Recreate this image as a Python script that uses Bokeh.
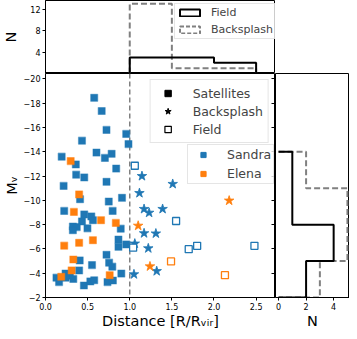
from bokeh.plotting import figure
from bokeh.models import (Range1d, FixedTicker, Span, Legend, LegendItem, LinearAxis)
from bokeh.layouts import column, row
from bokeh.embed import file_html
from bokeh.resources import INLINE

BLUE = "#1f77b4"
ORANGE = "#ff7f0e"
GRAY = "#808080"
FONT = "DejaVu Sans"
NAN = float("nan")

# ---------------- data ----------------
sandra_sat_x = [0.578, 0.667, 0.724, 0.958, 0.433, 0.985, 0.605, 0.785, 0.705, 0.192, 0.360, 0.839,
                0.364, 0.460, 0.724, 0.215, 0.410, 0.908, 0.751, 0.222, 0.797, 0.460, 0.544, 0.563,
                0.433, 0.325, 0.371, 0.498, 0.893, 0.325, 0.866, 0.866, 0.958, 0.724, 0.406, 0.755,
                0.793, 0.552, 0.399, 0.238, 0.130, 0.161, 0.238, 0.290, 0.330, 0.456, 0.532, 0.578,
                0.736, 0.800, 0.900]
sandra_sat_y = [-18.45, -17.36, -15.80, -15.47, -14.92, -14.64, -13.94, -13.83, -13.50, -13.60, -12.96, -12.62,
                -12.12, -11.89, -11.53, -11.19, -10.10, -10.21, -9.90, -9.13, -9.13, -8.84, -8.68, -8.37,
                -8.27, -7.85, -7.80, -7.70, -7.67, -7.54, -6.77, -6.17, -6.37, -5.52, -5.05, -4.87,
                -4.54, -4.67, -4.23, -3.97, -3.63, -3.27, -3.63, -3.79, -3.53, -2.99, -3.32, -3.42,
                -3.27, -3.40, -3.97]
elena_sat_x = [0.299, 0.399, 0.337, 0.659, 0.835, 0.222, 0.399, 0.563, 0.330, 0.310, 0.187, 0.762]
elena_sat_y = [-13.24, -10.49, -9.05, -8.37, -8.14, -6.27, -6.50, -6.72, -5.13, -4.23, -3.71, -3.84]

sandra_bs_x = [1.145, 1.115, 1.51, 1.17, 1.23, 1.39, 1.17, 1.31, 1.06, 1.22, 1.32, 1.05]
sandra_bs_y = [-12.0, -10.6, -11.35, -9.29, -8.98, -9.29, -7.29, -7.27, -6.44, -6.05, -4.17, -3.91]
elena_bs_x = [1.10, 1.24, 2.18]
elena_bs_y = [-7.91, -4.56, -9.98]

sandra_field_x = [1.06, 1.55, 1.04, 1.70, 1.80, 2.48]
sandra_field_y = [-12.85, -8.30, -6.10, -5.98, -6.26, -6.26]
elena_field_x = [1.49, 2.13]
elena_field_y = [-4.97, -3.84]

# histograms (bin edges and counts)
dist_edges = [1.0, 1.5, 2.0, 2.5]
dist_field_counts = [3, 3, 2]
dist_back_counts = [13, 1, 1]
mv_edges = [-14, -11, -8, -5, -2]
mv_field_counts = [1, 1, 4, 2]
mv_back_counts = [2, 5, 5, 3]

# ticks
x_ticks = [0.0, 0.5, 1.0, 1.5, 2.0, 2.5]
x_tick_labels = ["0.0", "0.5", "1.0", "1.5", "2.0", "2.5"]
y_ticks = [-20, -18, -16, -14, -12, -10, -8, -6, -4, -2]
y_tick_labels = ["\u221220", "\u221218", "\u221216", "\u221214", "\u221212", "\u221210",
                 "\u22128", "\u22126", "\u22124", "\u22122"]
ntop_ticks = [4, 8, 12]
ntop_labels = ["4", "8", "12"]
nright_ticks = [0, 2, 4]
nright_labels = ["0", "2", "4"]

X_END = 2.73
Y_TOP = -20.45
N_TOP_END = 13.6
N_RIGHT_START = -0.22
N_RIGHT_END = 5.15

LEFT = 41
MAIN_W = 234
TOP_H = 73
LOW_H = 258
TOTAL_W = 349


def key(t):
    return int(t) if float(t).is_integer() else t


def step_xy(edges, counts):
    xs, ys = [edges[0]], [0]
    for i, c in enumerate(counts):
        xs += [edges[i], edges[i + 1]]
        ys += [c, c]
    xs.append(edges[-1])
    ys.append(0)
    return xs, ys


def style_axis(ax, ticks, labels, label=None, label_standoff=1):
    ax.ticker = FixedTicker(ticks=ticks)
    ax.major_label_overrides = {key(t): l for t, l in zip(ticks, labels)}
    ax.minor_tick_line_color = None
    ax.major_tick_in = 0
    ax.major_tick_out = 3
    ax.major_label_standoff = 2
    ax.major_label_text_font = FONT
    ax.major_label_text_font_size = "8px"
    ax.major_label_text_color = "black"
    ax.axis_line_color = "black"
    ax.major_tick_line_color = "black"
    if label is not None:
        ax.axis_label = label
        ax.axis_label_text_font = FONT
        ax.axis_label_text_font_size = "14.5px"
        ax.axis_label_text_font_style = "normal"
        ax.axis_label_text_color = "black"
        ax.axis_label_standoff = label_standoff


def base_fig(**kw):
    p = figure(output_backend="svg", toolbar_location=None, min_border=0, **kw)
    p.xgrid.visible = False
    p.ygrid.visible = False
    p.outline_line_color = "black"
    p.outline_line_width = 1
    p.background_fill_color = "white"
    p.border_fill_color = "white"
    return p


XR = Range1d(0, X_END)
YR = Range1d(-2, Y_TOP)

# ---------------- top histogram ----------------
top = base_fig(width=LEFT + MAIN_W, height=TOP_H, x_range=XR, y_range=Range1d(0, N_TOP_END),
               x_axis_location=None, min_border_left=LEFT)
style_axis(top.yaxis[0], ntop_ticks, ntop_labels, label="N", label_standoff=8)
bx, by = step_xy(dist_edges, dist_back_counts)
fx, fy = step_xy(dist_edges, dist_field_counts)
top.line(bx, by, line_color=GRAY, line_width=2, line_dash="6 3")
top.line(fx, fy, line_color="black", line_width=2)
q_field = top.quad(left=[NAN], right=[NAN], top=[NAN], bottom=[NAN], fill_alpha=0,
                   line_color="black", line_width=2)
q_back = top.quad(left=[NAN], right=[NAN], top=[NAN], bottom=[NAN], fill_alpha=0,
                  line_color=GRAY, line_width=2, line_dash="4 2")
leg_top = Legend(items=[LegendItem(label="Field", renderers=[q_field]),
                        LegendItem(label="Backsplash", renderers=[q_back])],
                 location=(129, 34), label_text_font=FONT, label_text_font_size="11px",
                 glyph_width=25, glyph_height=9, label_height=12, label_standoff=9,
                 padding=2, spacing=4, border_line_color="#cccccc", background_fill_alpha=0.8)
top.add_layout(leg_top)

# ---------------- main scatter ----------------
main = base_fig(width=LEFT + MAIN_W, height=LOW_H, x_range=XR, y_range=YR,
                min_border_left=LEFT)
style_axis(main.xaxis[0], x_ticks, x_tick_labels, label="Distance [R/R\u1d65\u1d62\u1d63]", label_standoff=0)
style_axis(main.yaxis[0], y_ticks, y_tick_labels, label="M\u1d65", label_standoff=1)
rax = LinearAxis(ticker=FixedTicker(ticks=y_ticks), major_tick_in=4, major_tick_out=0,
                 major_label_text_font_size="0px", major_label_standoff=0,
                 minor_tick_line_color=None, axis_line_color=None,
                 major_label_overrides={key(t): "" for t in y_ticks})
main.add_layout(rax, "right")

main.add_layout(Span(location=1.0, dimension="height", line_color=GRAY, line_dash="5 3",
                     line_width=1.5, level="underlay"))

main.scatter(sandra_sat_x, sandra_sat_y, marker="square", size=7, fill_color=BLUE,
             line_color=BLUE, line_alpha=0.45, line_width=1.2)
main.scatter(elena_sat_x, elena_sat_y, marker="square", size=7, fill_color=ORANGE,
             line_color=ORANGE, line_alpha=0.45, line_width=1.2)
main.scatter(sandra_bs_x, sandra_bs_y, marker="star", size=10, fill_color=BLUE,
             line_color=BLUE, line_width=0.8)
main.scatter(elena_bs_x, elena_bs_y, marker="star", size=10, fill_color=ORANGE,
             line_color=ORANGE, line_width=0.8)
main.scatter(sandra_field_x, sandra_field_y, marker="square", size=7, fill_color="white",
             line_color=BLUE, line_width=1.3)
main.scatter(elena_field_x, elena_field_y, marker="square", size=7, fill_color="white",
             line_color=ORANGE, line_width=1.3)

d_sat = main.scatter([NAN], [NAN], marker="square", fill_color="black", line_color="black")
d_bs = main.scatter([NAN], [NAN], marker="star", fill_color="black", line_color="black")
d_fd = main.scatter([NAN], [NAN], marker="square", fill_color="white", line_color="black",
                    line_width=1.2)
d_sa = main.scatter([NAN], [NAN], marker="square", fill_color=BLUE, line_color=BLUE)
d_el = main.scatter([NAN], [NAN], marker="square", fill_color=ORANGE, line_color=ORANGE)

leg1 = Legend(items=[LegendItem(label="Satellites", renderers=[d_sat]),
                     LegendItem(label="Backsplash", renderers=[d_bs]),
                     LegendItem(label="Field", renderers=[d_fd])],
              location="top_right", margin=6, label_text_font=FONT, label_text_font_size="12.5px",
              glyph_width=24, glyph_height=16, label_height=16, label_standoff=13,
              padding=5, spacing=2, border_line_color="#cccccc", background_fill_alpha=0.8)
leg2 = Legend(items=[LegendItem(label="Sandra", renderers=[d_sa]),
                     LegendItem(label="Elena", renderers=[d_el])],
              location=(142, 113), label_text_font=FONT, label_text_font_size="12.5px",
              glyph_width=26, glyph_height=13, label_height=15, label_standoff=11,
              padding=2, spacing=4, border_line_color="#cccccc", background_fill_alpha=0.8)
main.add_layout(leg1)
main.add_layout(leg2)

# ---------------- right histogram ----------------
right = base_fig(width=TOTAL_W - LEFT - MAIN_W, height=LOW_H,
                 x_range=Range1d(N_RIGHT_START, N_RIGHT_END), y_range=YR,
                 y_axis_location=None)
style_axis(right.xaxis[0], nright_ticks, nright_labels, label="N", label_standoff=0)
ry_b, rx_b = step_xy(mv_edges, mv_back_counts)
ry_f, rx_f = step_xy(mv_edges, mv_field_counts)
right.line(rx_b, ry_b, line_color=GRAY, line_width=2, line_dash="6 3")
right.line(rx_f, ry_f, line_color="black", line_width=2)

layout = column(top, row(main, right))
open("out.html", "w").write(file_html(layout, INLINE))
